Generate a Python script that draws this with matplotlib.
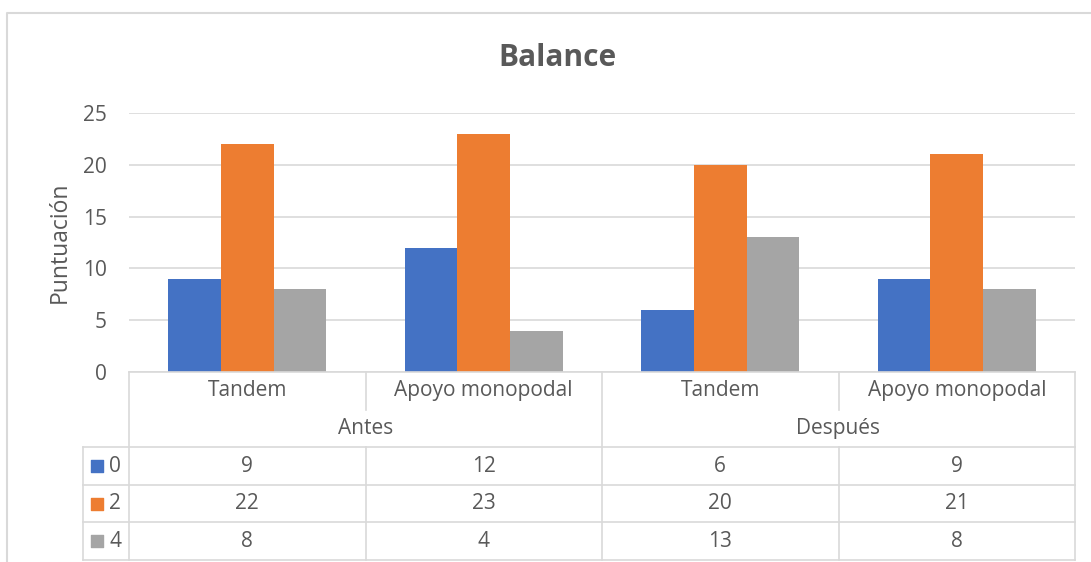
import matplotlib
matplotlib.use('Agg')
import matplotlib.pyplot as plt
import numpy as np

categories = ['Tandem', 'Apoyo monopodal', 'Tandem', 'Apoyo monopodal']
groups = ['Antes', 'Después']
series_names = ['0', '2', '4']
vals_0 = [9, 12, 6, 9]
vals_2 = [22, 23, 20, 21]
vals_4 = [8, 4, 13, 8]
colors = ['#4472C4', '#ED7D31', '#A5A5A5']

TXT = '#595959'
GRID = '#D9D9D9'
plt.rcParams['font.family'] = ['Open Sans', 'DejaVu Sans']

W, H = 1091, 562
fig = plt.figure(figsize=(W / 100, H / 100), dpi=100)


def px_axes(x0, y0, x1, y1):
    return fig.add_axes([x0 / W, 1 - y1 / H, (x1 - x0) / W, (y1 - y0) / H])


# chart border
border = fig.add_axes([0, 0, 1, 1], zorder=-5)
border.set_xlim(0, W)
border.set_ylim(H, 0)
border.axis('off')
border.plot([7, 7, 1090], [H, 13, 13], color=GRID, lw=1.5)

ax = px_axes(129, 113, 1075, 372)
x = np.arange(len(categories)) + 0.5
bw = 0.223
for i, (vals, c) in enumerate(zip([vals_0, vals_2, vals_4], colors)):
    ax.bar(x + (i - 1) * bw, vals, bw, color=c, zorder=3)
ax.set_xlim(0, 4)
ax.set_ylim(0, 25)
ax.set_yticks(range(0, 26, 5))
ax.grid(axis='y', color=GRID, lw=1.2)
ax.set_xticks([])
for s in ax.spines.values():
    s.set_visible(False)
ax.tick_params(axis='y', length=0, labelsize=15, colors=TXT, pad=16)
ax.set_ylabel('Puntuación', fontsize=16.5, color=TXT, labelpad=8)
fig.text(557 / W, 1 - 58 / H, 'Balance', ha='center', va='center',
         fontsize=21.5, fontweight='bold', color=TXT)

# data table below the plot
tb = px_axes(129, 372, 1075, 560)
tb.set_xlim(0, 4)
tb.set_ylim(5, 0)
tb.axis('off')
lk = dict(color=GRID, lw=1.2, clip_on=False)
leg_x = -46 / 236.5
tb.plot([0, 4], [0, 0], **lk)
for xv in [0, 2, 4]:
    tb.plot([xv, xv], [0, 5], **lk)
for xv in [1, 3]:
    tb.plot([xv, xv], [0, 1], **lk)
    tb.plot([xv, xv], [2, 5], **lk)
for yv in [2, 3, 4, 5]:
    tb.plot([leg_x, 4], [yv, yv], **lk)
tb.plot([leg_x, leg_x], [2, 5], **lk)

fs = 15
for j, cat in enumerate(categories):
    tb.text(j + 0.5, 0.5, cat, ha='center', va='center', fontsize=fs, color=TXT)
for g, name in enumerate(groups):
    tb.text(2 * g + 1, 1.5, name, ha='center', va='center', fontsize=fs, color=TXT)
for r, (name, vals, c) in enumerate(zip(series_names, [vals_0, vals_2, vals_4], colors)):
    yr = 2.5 + r
    tb.scatter([leg_x + 0.06], [yr], marker='s', s=85, color=c, clip_on=False)
    tb.text(leg_x + 0.11, yr, name, ha='left', va='center', fontsize=fs, color=TXT)
    for j, v in enumerate(vals):
        tb.text(j + 0.5, yr, str(v), ha='center', va='center', fontsize=fs, color=TXT)

fig.savefig('out.png', dpi=100)
